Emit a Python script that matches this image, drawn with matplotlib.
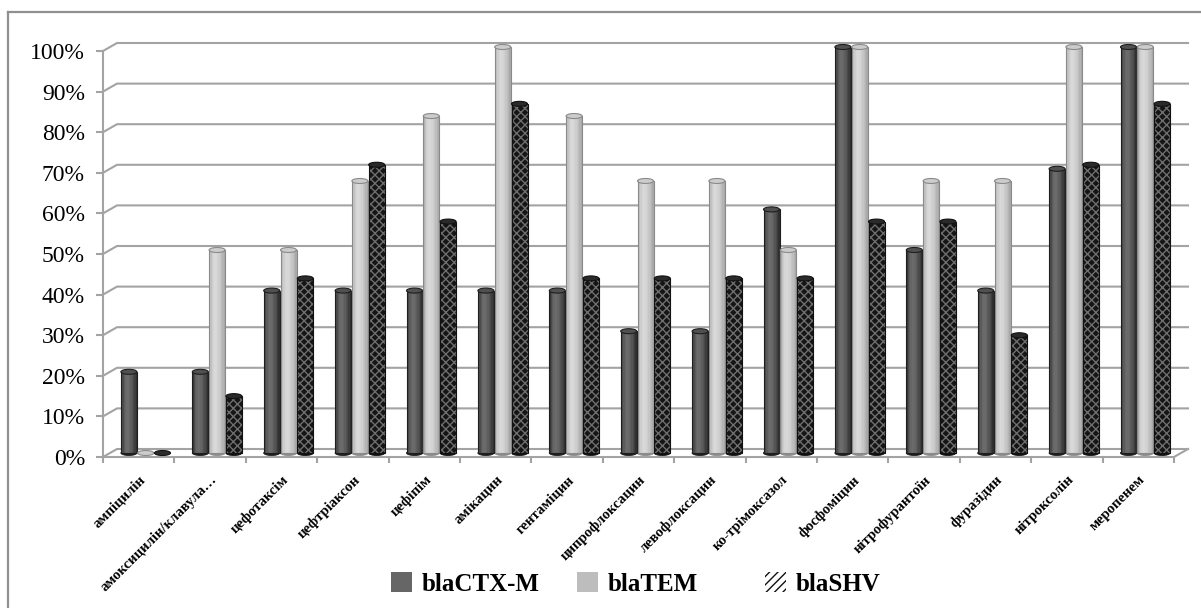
import numpy as np
import matplotlib
matplotlib.use('Agg')
import matplotlib.pyplot as plt
from matplotlib.patches import Rectangle, Ellipse, Patch
from matplotlib.lines import Line2D
from matplotlib.transforms import ScaledTranslation

categories = ["ампіцилін", "амоксицилін/клавула…", "цефотаксім", "цефтріаксон",
              "цефіпім", "амікацин", "гентаміцин", "ципрофлоксацин",
              "левофлоксацин", "ко-трімоксазол", "фосфоміцин", "нітрофурантоїн",
              "фуразідин", "нітроксолін", "меропенем"]
bla_ctx = [20, 20, 40, 40, 40, 40, 40, 30, 30, 60, 100, 50, 40, 70, 100]
bla_tem = [0, 50, 50, 67, 83, 100, 83, 67, 67, 50, 100, 67, 67, 100, 100]
bla_shv = [0, 14, 43, 71, 57, 86, 43, 43, 43, 43, 57, 57, 29, 71, 86]
series_names = ["blaCTX-M", "blaTEM", "blaSHV"]
y_ticks = list(range(0, 101, 10))
y_labels = [f"{v}%" for v in y_ticks]

plt.rcParams['font.family'] = ['Liberation Serif', 'DejaVu Serif']
plt.rcParams['hatch.linewidth'] = 1.0

W, H = 1201, 608
fig = plt.figure(figsize=(W / 100, H / 100), dpi=100)
L, R, B, T = 103, 1174, 457, 51
ax = fig.add_axes([L / W, 1 - B / H, (R - L) / W, (B - T) / H])
n = len(categories)
ax.set_xlim(0, n)
ax.set_ylim(0, 100)
ax.patch.set_visible(False)

ppx = (R - L) / n          # pixels per category
ppy = (B - T) / 100        # pixels per percent
DX = 14 / ppx              # 3D depth offset (data units)
DY = 8 / ppy
grid_c = '#a3a3a3'

# outer frame
fig.add_artist(Line2D([8 / W, 8 / W], [0, 1 - 12 / H], transform=fig.transFigure,
                      color='#909090', lw=1.6))
fig.add_artist(Line2D([8 / W, 1], [1 - 12 / H, 1 - 12 / H], transform=fig.transFigure,
                      color='#909090', lw=1.6))

# gridlines on the back wall with 3D diagonal
for v in y_ticks:
    ax.plot([0, DX, n + DX], [v, v + DY, v + DY], color=grid_c, lw=1.5,
            clip_on=False, zorder=1)
ax.plot([n, n + DX], [0, DY], color=grid_c, lw=1.5, clip_on=False, zorder=1)

for side in ['top', 'right']:
    ax.spines[side].set_visible(False)
for side in ['left', 'bottom']:
    ax.spines[side].set_color(grid_c)
    ax.spines[side].set_linewidth(1.5)

ax.set_yticks(y_ticks)
ax.set_yticklabels(y_labels, fontsize=17)
ax.tick_params(axis='y', length=5, width=1.5, color=grid_c, pad=8)

centers = np.arange(n) + 0.5
ax.set_xticks(np.arange(n + 1), minor=True)
ax.set_xticks(centers)
ax.set_xticklabels(categories, rotation=45, ha='right', va='center',
                   rotation_mode='anchor', fontsize=10.5, fontweight='bold')
ax.tick_params(axis='x', which='major', length=0, pad=15)
ax.tick_params(axis='x', which='minor', length=4, width=1.5, color=grid_c)
for lab in ax.get_xticklabels():
    lab.set_transform(lab.get_transform() + ScaledTranslation(5 / 100, 0, fig.dpi_scale_trans))

# cylinders
bw = 16 / ppx
gap = 16.8 / ppx
offs = [-gap, 0, gap]
ell_h = 5 / ppy
nstrip = 12


def shade(t, dark_l, light, dark_r):
    if t < 0.4:
        f = t / 0.4
        return dark_l + (light - dark_l) * np.sin(f * np.pi / 2)
    f = (t - 0.4) / 0.6
    return light + (dark_r - light) * f ** 1.6


styles = {
    'ctx': dict(prof=(0.18, 0.42, 0.16), edge='#1e1e1e', top='#505050'),
    'tem': dict(prof=(0.68, 0.85, 0.64), edge='#8a8a8a', top='#cccccc'),
    'shv': dict(prof=None, edge='#111111', top='#2a2a2a'),
}

base = DY / 2   # bars stand at mid-depth
for i in range(n):
    bx = centers[i] + DX / 2
    for j, (vals, st) in enumerate(zip([bla_ctx, bla_tem, bla_shv], ['ctx', 'tem', 'shv'])):
        s = styles[st]
        xc = bx + offs[j]
        h = vals[i]
        x0 = xc - bw / 2
        sw = bw / nstrip
        if s['prof'] is not None:
            for k in range(nstrip):
                g = shade((k + 0.5) / nstrip, *s['prof'])
                ax.add_patch(Rectangle((x0 + k * sw, base), sw * 1.05, h, facecolor=(g, g, g),
                                       edgecolor='none', lw=0, zorder=3, clip_on=False))
        else:
            ax.add_patch(Rectangle((x0, base), bw, h, facecolor='#151515', edgecolor='#6e6e6e',
                                   hatch='xxxx', lw=0, zorder=3, clip_on=False))
        if h > 0:
            ax.add_patch(Rectangle((x0, base), bw, h, facecolor='none', edgecolor=s['edge'],
                                   lw=0.8, zorder=4, clip_on=False))
            ax.add_patch(Ellipse((xc, base), bw, ell_h, facecolor=s['edge'], edgecolor=s['edge'],
                                 lw=0.6, zorder=2.9, clip_on=False))
        ax.add_patch(Ellipse((xc, base + h), bw, ell_h, facecolor=s['top'], edgecolor=s['edge'],
                             lw=0.8, zorder=5, clip_on=False))

# legend: three equally spaced entries
handles = [Patch(facecolor='#666666', edgecolor='none'),
           Patch(facecolor='#bdbdbd', edgecolor='none'),
           Patch(facecolor='white', edgecolor='#111111', hatch='////', lw=0)]
leg_x = [391, 577, 765]
for hnd, name, lx in zip(handles, series_names, leg_x):
    fig.legend([hnd], [name], loc='center left', bbox_to_anchor=(lx / W, 1 - 584 / H),
               frameon=False, prop={'weight': 'bold', 'size': 18},
               handlelength=0.82, handleheight=0.82, handletextpad=0.4,
               borderpad=0, borderaxespad=0)

fig.savefig('out.png', dpi=100)
